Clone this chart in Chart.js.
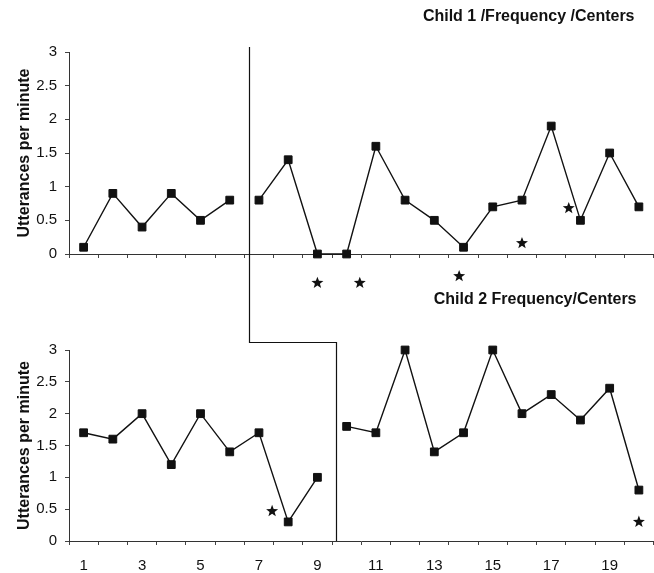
<!DOCTYPE html>
<html>
<head>
<meta charset="utf-8">
<script src="https://cdn.jsdelivr.net/npm/chart.js@4/dist/chart.umd.min.js"></script>
<style>
  html, body { margin: 0; padding: 0; background: #fff; overflow: hidden; width: 654px; height: 573px; }
  canvas { position: absolute; left: 0; }
</style>
</head>
<body>
<canvas id="child1" width="660" height="290" style="top:0"></canvas>
<canvas id="child2" width="660" height="283" style="top:290px"></canvas>
<script>
// sessions on the x axis
const sessions = ['1','2','3','4','5','6','7','8','9','10','11','12','13','14','15','16','17','18','19','20'];

// Child 1: baseline sessions 1-6, intervention 7-20
const child1Baseline = [0.1, 0.9, 0.4, 0.9, 0.5, 0.8];
const child1Treatment = [0.8, 1.4, 0, 0, 1.6, 0.8, 0.5, 0.1, 0.7, 0.8, 1.9, 0.5, 1.5, 0.7];
// Child 2: baseline sessions 1-9, intervention 10-20
const child2Baseline = [1.7, 1.6, 2.0, 1.2, 2.0, 1.4, 1.7, 0.3, 1.0];
const child2Treatment = [1.8, 1.7, 3.0, 1.4, 1.7, 3.0, 2.0, 2.3, 1.9, 2.4, 0.8];

// asterisks (session, value)
const child1StarSessions = [9, 10.45, 13.85, 16, 17.6];
const child1StarValues = [-0.43, -0.43, -0.33, 0.16, 0.68];
const child2StarSessions = [7.45, 20];
const child2StarValues = [0.47, 0.3];

// phase change after this session
const child1PhaseAfter = 6;
const child2PhaseAfter = 9;

const yMin = 0, yMax = 3, yStep = 0.5;

const FONT = "'Liberation Sans', Arial, sans-serif";
const INK = '#111';

// pad a phase's values out to the full 20 sessions
function placeSeries(values, firstSession) {
  const out = sessions.map(() => null);
  values.forEach((v, i) => { out[firstSession - 1 + i] = v; });
  return out;
}

function drawStar(ctx, cx, cy, r) {
  ctx.beginPath();
  for (let i = 0; i < 10; i++) {
    const rad = i % 2 === 0 ? r : r * 0.42;
    const a = -Math.PI / 2 + i * Math.PI / 5;
    const px = cx + rad * Math.cos(a), py = cy + rad * Math.sin(a);
    if (i === 0) ctx.moveTo(px, py); else ctx.lineTo(px, py);
  }
  ctx.closePath();
  ctx.fill();
}

const starPlugin = {
  id: 'stars',
  afterDatasetsDraw(chart, args, opts) {
    const ctx = chart.ctx, x = chart.scales.x, y = chart.scales.y;
    ctx.save();
    ctx.fillStyle = INK;
    opts.sessions.forEach((s, i) => {
      drawStar(ctx, x.getPixelForValue(s - 1), y.getPixelForValue(opts.values[i]), 6.3);
    });
    ctx.restore();
  }
};

// phase change line (top chart: straight down; bottom chart: steps right to its own phase change)
const phasePlugin = {
  id: 'phase',
  afterDraw(chart, args, opts) {
    const {ctx, chartArea} = chart;
    const x = chart.scales.x;
    ctx.save();
    ctx.strokeStyle = INK;
    ctx.lineWidth = 1.2;
    ctx.beginPath();
    const px = Math.round(x.getPixelForValue(opts.after - 0.5 + opts.nudge)) + 0.5;
    if (opts.stepFrom == null) {
      ctx.moveTo(px, chartArea.top - 5);
      ctx.lineTo(px, chart.height);
    } else {
      const p0 = Math.round(x.getPixelForValue(opts.stepFrom - 0.5 + opts.nudge)) + 0.5;
      const yStepPx = chartArea.top - 7.5;
      ctx.moveTo(p0, 0);
      ctx.lineTo(p0, yStepPx);
      ctx.lineTo(px, yStepPx);
      ctx.lineTo(px, chartArea.bottom);
    }
    ctx.stroke();
    ctx.restore();
  }
};

const headingPlugin = {
  id: 'heading',
  afterDraw(chart, args, opts) {
    const ctx = chart.ctx;
    ctx.save();
    ctx.font = 'bold 16px ' + FONT;
    ctx.fillStyle = INK;
    ctx.textAlign = 'right';
    ctx.textBaseline = 'middle';
    ctx.fillText(opts.text, chart.chartArea.right - opts.right, opts.y);
    ctx.restore();
  }
};

function makeChart(id, baseline, treatment, phaseAfter, stars, cfg) {
  const lineStyle = {
    borderColor: INK,
    borderWidth: 1.4,
    pointStyle: 'rect',
    pointRadius: 5.5,
    pointBackgroundColor: INK,
    pointBorderColor: INK,
    pointBorderWidth: 1,
    spanGaps: false,
    clip: false,
    tension: 0
  };
  return new Chart(document.getElementById(id), {
    type: 'line',
    data: {
      labels: sessions,
      datasets: [
        Object.assign({ label: 'Baseline', data: placeSeries(baseline, 1) }, lineStyle),
        Object.assign({ label: 'Intervention', data: placeSeries(treatment, phaseAfter + 1) }, lineStyle)
      ]
    },
    options: {
      responsive: false,
      animation: false,
      devicePixelRatio: 1,
      layout: { padding: { top: cfg.padTop, right: 3, bottom: 0, left: 0 } },
      plugins: {
        legend: { display: false },
        tooltip: { enabled: false },
        stars: stars,
        phase: cfg.phase,
        heading: cfg.heading
      },
      scales: {
        x: {
          offset: true,
          grid: { offset: true, drawOnChartArea: false, tickLength: 4, color: '#444', lineWidth: 1 },
          border: { color: '#333', width: 1 },
          ticks: {
            display: cfg.showX,
            autoSkip: false,
            maxRotation: 0,
            padding: 12,
            color: INK,
            font: { family: FONT, size: 15 },
            callback: (v, i) => (i % 2 === 0 ? sessions[i] : '')
          },
          afterFit: s => { s.height = cfg.xHeight; }
        },
        y: {
          min: yMin,
          max: yMax,
          grid: { drawOnChartArea: false, tickLength: 4, color: '#444' },
          border: { color: '#333', width: 1 },
          ticks: {
            stepSize: yStep,
            padding: 8,
            color: INK,
            font: { family: FONT, size: 15 },
            callback: v => String(v)
          },
          title: {
            display: true,
            text: 'Utterances per minute',
            color: INK,
            font: { family: FONT, size: 16, weight: 'bold' },
            padding: { top: 15, bottom: 0 }
          },
          afterFit: s => { s.width = 69; }
        }
      }
    },
    plugins: [starPlugin, phasePlugin, headingPlugin]
  });
}

makeChart('child1', child1Baseline, child1Treatment, child1PhaseAfter,
  { sessions: child1StarSessions, values: child1StarValues },
  {
    padTop: 52, xHeight: 36, showX: false,
    phase: { after: child1PhaseAfter, nudge: 0.15 },
    heading: { text: 'Child 1 /Frequency /Centers', right: 19, y: 17 }
  });

makeChart('child2', child2Baseline, child2Treatment, child2PhaseAfter,
  { sessions: child2StarSessions, values: child2StarValues },
  {
    padTop: 60, xHeight: 32, showX: true,
    phase: { after: child2PhaseAfter, stepFrom: child1PhaseAfter, nudge: 0.15 },
    heading: { text: 'Child 2 Frequency/Centers', right: 17, y: 10 }
  });
</script>
</body>
</html>
